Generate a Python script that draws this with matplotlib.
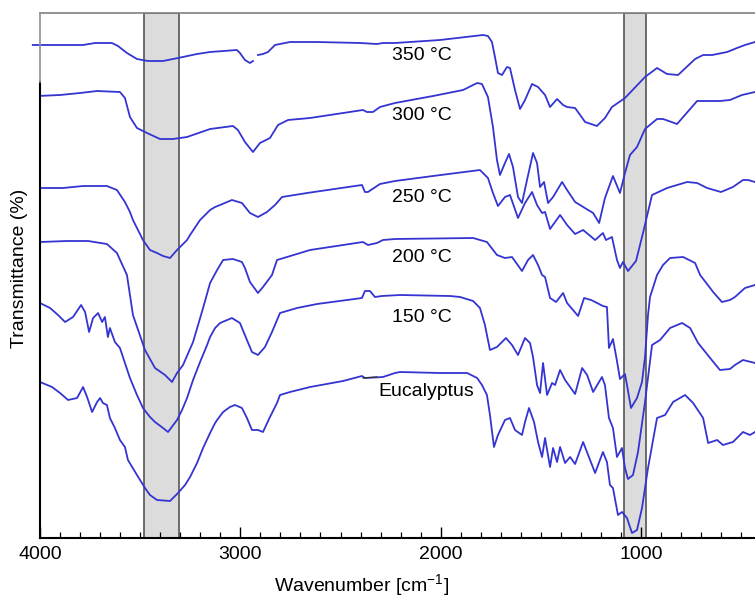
import numpy as np
import matplotlib
matplotlib.use("Agg")
import matplotlib.pyplot as plt

plt.rcParams['font.family'] = ['Liberation Sans', 'DejaVu Sans']
plt.rcParams['mathtext.fontset'] = 'custom'
plt.rcParams['mathtext.rm'] = 'Liberation Sans'
plt.rcParams['mathtext.it'] = 'Liberation Sans:italic'

# ---------------- data: (wavenumber cm-1, transmittance in arbitrary offset units) ----------------
spec_350 = [(4036, 493), (3785, 493), (3725, 495), (3641, 495), (3611, 492), (3566, 485), (3516, 479),
            (3461, 477), (3386, 477), (3311, 480), (3216, 484), (3151, 486), (3017, 488), (3002, 485),
            (2977, 478), (2952, 475), (2937, 477), (np.nan, np.nan), (2912, 483), (2887, 484),
            (2862, 486), (2827, 493), (2752, 496), (2617, 496), (2403, 495), (2318, 494), (2288, 495),
            (2228, 495), (2003, 498), (1789, 503), (1764, 502), (1744, 496), (1729, 481), (1714, 465),
            (1694, 463), (1669, 471), (1654, 470), (1629, 448), (1604, 429), (1579, 438), (1544, 454),
            (1514, 451), (1479, 443), (1454, 431), (1419, 439), (1389, 433), (1369, 431), (1329, 430),
            (1279, 416), (1220, 412), (1180, 420), (1145, 431), (1080, 440), (980, 461), (920, 470),
            (870, 464), (815, 463), (730, 479), (690, 483), (645, 483), (570, 486), (521, 490),
            (481, 493), (431, 496)]

spec_300 = [(4010, 442), (3900, 443), (3800, 445), (3715, 447), (3601, 446), (3576, 440), (3551, 421),
            (3516, 410), (3466, 405), (3401, 399), (3336, 399), (3266, 401), (3151, 409), (3037, 412),
            (3012, 408), (2977, 396), (2937, 386), (2902, 395), (2852, 400), (2812, 413), (2762, 418),
            (2652, 420), (2388, 428), (2368, 426), (2338, 426), (2303, 431), (2228, 435), (2038, 442),
            (1888, 448), (1818, 455), (1794, 454), (1764, 441), (1739, 411), (1719, 378), (1704, 363),
            (1679, 375), (1659, 384), (1639, 371), (1614, 341), (1594, 335), (1569, 358), (1539, 385),
            (1519, 375), (1504, 351), (1484, 356), (1464, 335), (1439, 341), (1394, 356), (1369, 348),
            (1329, 336), (1264, 328), (1239, 325), (1209, 315), (1180, 340), (1140, 362), (1105, 345),
            (1080, 365), (1055, 383), (1020, 391), (980, 409), (920, 419), (890, 419), (820, 414),
            (720, 437), (606, 437), (556, 438), (496, 443), (431, 446)]

spec_250 = [(4010, 350), (3885, 350), (3785, 352), (3666, 352), (3616, 348), (3576, 336), (3551, 326),
            (3536, 318), (3516, 310), (3486, 298), (3451, 288), (3416, 285), (3386, 282), (3351, 280),
            (3316, 288), (3286, 294), (3266, 298), (3251, 303), (3201, 318), (3166, 325), (3151, 328),
            (3126, 331), (3101, 333), (3042, 338), (2992, 335), (2952, 325), (2912, 321), (2867, 326),
            (2827, 333), (2792, 341), (2667, 345), (2393, 353), (2378, 346), (2363, 346), (2303, 354),
            (2228, 357), (2038, 362), (1804, 368), (1764, 360), (1739, 345), (1714, 332), (1679, 341),
            (1654, 343), (1614, 320), (1579, 335), (1544, 346), (1519, 333), (1494, 325), (1479, 326),
            (1454, 309), (1404, 323), (1369, 313), (1329, 304), (1289, 308), (1229, 298), (1190, 305),
            (1175, 298), (1145, 301), (1120, 278), (1105, 270), (1090, 276), (1065, 267), (1025, 277),
            (990, 305), (945, 343), (870, 350), (770, 356), (720, 355), (670, 350), (601, 346),
            (541, 351), (491, 358), (466, 358), (431, 356)]

spec_200 = [(4000, 296), (3865, 297), (3760, 297), (3666, 294), (3616, 285), (3566, 263), (3536, 223),
            (3476, 188), (3426, 170), (3376, 163), (3341, 156), (3316, 165), (3286, 173), (3236, 196),
            (3186, 230), (3151, 255), (3116, 268), (3086, 278), (3037, 279), (2992, 276), (2977, 270),
            (2952, 256), (2912, 245), (2887, 251), (2842, 263), (2817, 278), (2767, 281), (2652, 288),
            (2388, 296), (2363, 293), (2318, 295), (2288, 298), (2228, 299), (1838, 300), (1769, 296),
            (1719, 283), (1679, 280), (1644, 281), (1594, 267), (1564, 278), (1539, 283), (1514, 273),
            (1494, 263), (1479, 261), (1454, 240), (1424, 236), (1389, 245), (1369, 235), (1314, 222),
            (1284, 240), (1249, 238), (1190, 232), (1170, 231), (1160, 190), (1140, 199), (1120, 177),
            (1105, 159), (1080, 164), (1070, 153), (1050, 130), (1020, 140), (995, 156), (980, 181),
            (965, 223), (955, 241), (920, 263), (890, 273), (855, 280), (790, 281), (730, 275),
            (705, 263), (655, 250), (640, 246), (596, 236), (556, 238), (531, 241), (481, 250),
            (431, 253)]

spec_150 = [(4010, 236), (3950, 230), (3910, 223), (3875, 216), (3835, 221), (3795, 233), (3775, 226),
            (3755, 206), (3735, 220), (3710, 225), (3690, 216), (3676, 221), (3661, 201), (3651, 210),
            (3626, 196), (3601, 190), (3576, 175), (3551, 160), (3516, 143), (3486, 130), (3451, 121),
            (3426, 116), (3386, 110), (3361, 106), (3316, 118), (3291, 128), (3266, 140), (3236, 158),
            (3201, 176), (3166, 193), (3151, 201), (3126, 210), (3101, 215), (3042, 220), (3002, 215),
            (2967, 198), (2942, 186), (2912, 183), (2877, 191), (2842, 206), (2802, 225), (2717, 230),
            (2617, 234), (2393, 240), (2378, 247), (2353, 247), (2328, 241), (2293, 242), (2203, 243),
            (1953, 242), (1903, 241), (1838, 237), (1804, 230), (1779, 213), (1754, 188), (1719, 191),
            (1674, 200), (1644, 193), (1614, 183), (1579, 200), (1554, 195), (1539, 181), (1519, 153),
            (1504, 145), (1489, 175), (1469, 143), (1444, 155), (1429, 153), (1404, 168), (1379, 158),
            (1354, 151), (1329, 144), (1294, 170), (1269, 163), (1239, 146), (1195, 161), (1180, 153),
            (1160, 120), (1140, 110), (1120, 81), (1095, 90), (1080, 70), (1065, 59), (1040, 63),
            (1015, 86), (980, 136), (945, 193), (905, 198), (855, 210), (795, 215), (755, 210),
            (715, 195), (655, 180), (606, 168), (556, 169), (531, 173), (491, 178), (431, 175)]

spec_euc = [(4000, 156), (3940, 151), (3900, 145), (3860, 138), (3815, 140), (3785, 151), (3765, 141),
            (3740, 126), (3715, 136), (3700, 140), (3686, 135), (3666, 133), (3651, 120), (3626, 110),
            (3601, 98), (3576, 91), (3561, 78), (3516, 63), (3476, 50), (3451, 43), (3416, 38),
            (3351, 37), (3311, 45), (3276, 53), (3251, 61), (3216, 75), (3186, 90), (3151, 105),
            (3126, 115), (3116, 118), (3086, 126), (3052, 131), (3027, 133), (2992, 130), (2967, 120),
            (2942, 108), (2912, 108), (2887, 106), (2852, 121), (2817, 135), (2802, 143), (2752, 146),
            (2652, 151), (2487, 157), (2393, 162), (2378, 160), (2288, 161), (2228, 165), (2203, 166),
            (2003, 165), (1868, 165), (1818, 160), (1794, 153), (1769, 143), (1754, 123), (1734, 91),
            (1714, 103), (1679, 118), (1654, 120), (1629, 108), (1594, 103), (1579, 116), (1559, 130),
            (1534, 116), (1514, 96), (1494, 81), (1479, 100), (1454, 71), (1439, 90), (1419, 76),
            (1404, 91), (1379, 75), (1354, 81), (1329, 74), (1289, 96), (1264, 83), (1229, 65),
            (1190, 86), (1170, 76), (1155, 53), (1140, 50), (1115, 23), (1095, 26), (1070, 20),
            (1045, 5), (1020, 8), (995, 30), (965, 70), (920, 120), (880, 123), (840, 136), (780, 143),
            (740, 135), (690, 120), (665, 95), (620, 98), (591, 93), (541, 96), (491, 106), (456, 103),
            (431, 106)]

names = ["350 °C", "300 °C", "250 °C", "200 °C", "150 °C", "Eucalyptus"]
spectra = [spec_350, spec_300, spec_250, spec_200, spec_150, spec_euc]
label_x = [2243, 2243, 2243, 2243, 2243, 2313]
label_y = [483, 423, 340, 281, 220, 146]
bands = [(3481, 3306), (1083, 975)]
xticks = [4000, 3000, 2000, 1000]
minor_ticks = list(range(3900, 400, -100))

# ---------------- figure ----------------
fig = plt.figure(figsize=(7.55, 6.02), dpi=100)
ax = fig.add_axes([40/755, 64/602, 715/755, 525/602])

line_color = '#3434d2'
for lo, hi in bands:
    ax.axvspan(hi, lo, ymin=0, ymax=1, facecolor='#dcdcdc', edgecolor='#555555',
               linewidth=1.2, zorder=1)

for spec, name, lx, ly in zip(spectra, names, label_x, label_y):
    arr = np.array(spec, dtype=float)
    ax.plot(arr[:, 0], arr[:, 1], color=line_color, lw=1.3, zorder=3,
            solid_joinstyle='round', clip_on=(name != "350 °C"))
    ax.text(lx, ly, name, fontsize=14, ha='left', va='center', zorder=4)

# short dark leader on the Eucalyptus trace
ax.plot([2388, 2318], [160, 161], color='#333333', lw=0.9, zorder=4)

ax.set_xlim(4000, 431)
ax.set_ylim(0, 525)

ax.set_xticks(xticks)
ax.set_xticklabels([str(v) for v in xticks])
ax.set_xticks(minor_ticks, minor=True)
ax.set_yticks([])
ax.tick_params(axis='x', which='major', direction='in', length=8, width=1.0,
               labelsize=14, pad=6, top=False)
ax.tick_params(axis='x', which='minor', direction='in', length=4, width=0.9, top=False)

ax.spines['right'].set_visible(False)
ax.spines['top'].set_color('#808080')
ax.spines['top'].set_linewidth(1.2)
ax.spines['bottom'].set_linewidth(1.5)
ax.spines['left'].set_visible(False)
split = (538 - 82) / 525
ax.plot([0, 0], [0, split], transform=ax.transAxes, color='black', lw=1.5, clip_on=False, zorder=5)
ax.plot([0, 0], [split, 1], transform=ax.transAxes, color='#909090', lw=1.2, clip_on=False, zorder=5)

ax.set_xlabel("Wavenumber [cm$^{-1}$]", fontsize=14)
ax.xaxis.label.set_va('center')
ax.xaxis.set_label_coords(0.45, -0.09)
ax.set_ylabel("Transmittance (%)", fontsize=14)
ax.yaxis.label.set_va('center')
ax.yaxis.set_label_coords(-0.028, 0.514)

fig.savefig("out.png", dpi=100)
